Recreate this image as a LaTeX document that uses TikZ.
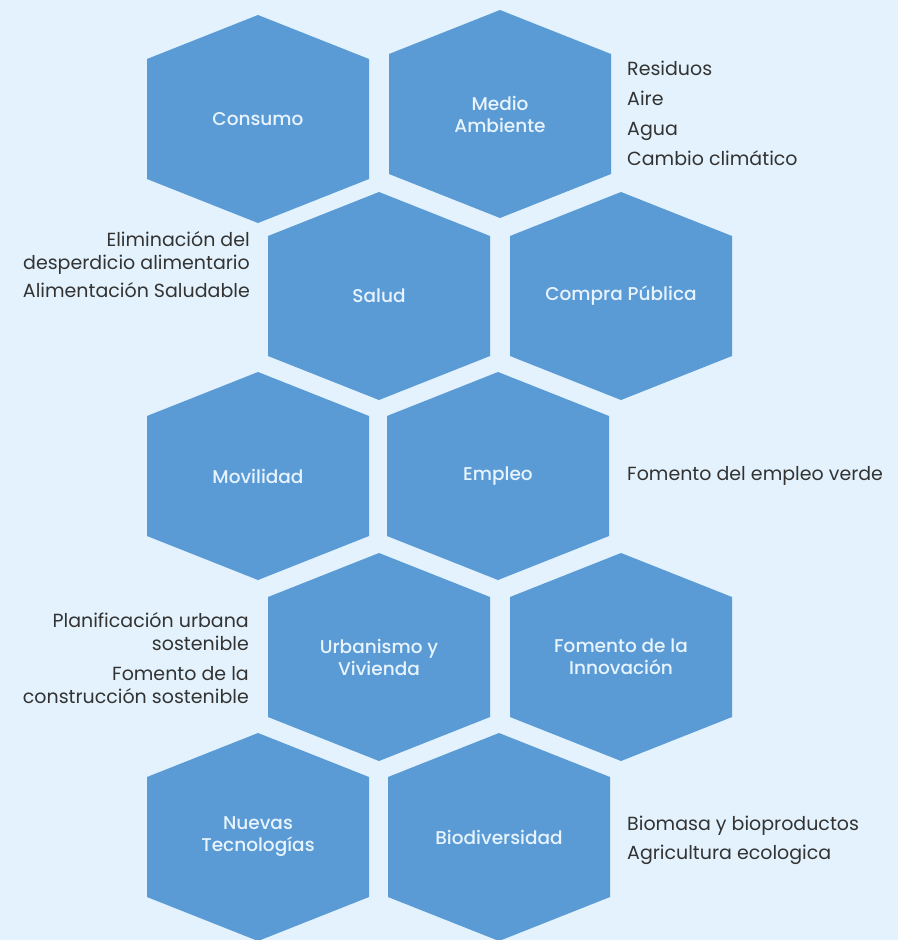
\documentclass[tikz,border=0pt]{standalone}
\usepackage{fontspec}
\setmainfont{Poppins}
\newfontfamily\hexfont{Poppins Medium}
\definecolor{bgblue}{HTML}{E3F2FC}
\definecolor{hexblue}{HTML}{5B9BD5}
\definecolor{hextext}{HTML}{E8F4FD}
\definecolor{sidetext}{HTML}{333333}
\tikzset{
  hexshape/.style={fill=hexblue},
  hexlabel/.style={text=hextext, align=center, inner sep=0pt, font=\hexfont\fontsize{18.5}{22}\selectfont},
  sidelabel/.style={text=sidetext, inner sep=0pt, font=\fontsize{19}{23}\selectfont},
}
\newcommand{\hexcell}[4]{%
  \begin{scope}[shift={(#2,#3)}]
    \fill[hexshape] (-111,-60) -- (0,-104) -- (111,-60) -- (111,60) -- (0,104) -- (-111,60) -- cycle;
  \end{scope}
  \node[hexlabel] (#1) at (#2,#3) {#4};
}
\begin{document}
\begin{tikzpicture}[x=1pt,y=-1pt]
\fill[bgblue] (0,0) rectangle (898,940);
\useasboundingbox (0,0) rectangle (898,940);

\hexcell{consumo}{258}{119}{Consumo}
\hexcell{medio}{500}{114}{Medio\\Ambiente}
\hexcell{salud}{379}{296}{Salud}
\hexcell{compra}{621}{296}{Compra Pública}
\hexcell{movilidad}{258}{476}{Movilidad}
\hexcell{empleo}{498}{476}{Empleo}
\hexcell{urbanismo}{379}{657}{Urbanismo y\\Vivienda}
\hexcell{fomento}{621}{657}{Fomento de la\\Innovación}
\hexcell{nuevas}{258}{837}{Nuevas\\Tecnologías}
\hexcell{bio}{499}{837}{Biodiversidad}

\node[sidelabel, anchor=west, align=left, font=\fontsize{19}{30}\selectfont] (medlist) at (627,113)
  {Residuos\\Aire\\Agua\\Cambio climático};
\node[sidelabel, anchor=east, align=right] (saludlist) at (250,265)
  {Eliminación del\\desperdicio alimentario\\[5pt]Alimentación Saludable};
\node[sidelabel, anchor=west, align=left] (empleolist) at (627,476)
  {Fomento del empleo verde};
\node[sidelabel, anchor=east, align=right] (urblist) at (249,658)
  {Planificación urbana\\sostenible\\[7pt]Fomento de la\\construcción sostenible};
\node[sidelabel, anchor=west, align=left, font=\fontsize{19}{29}\selectfont] (biolist) at (627,840)
  {Biomasa y bioproductos\\Agricultura ecologica};
\end{tikzpicture}
\end{document}
